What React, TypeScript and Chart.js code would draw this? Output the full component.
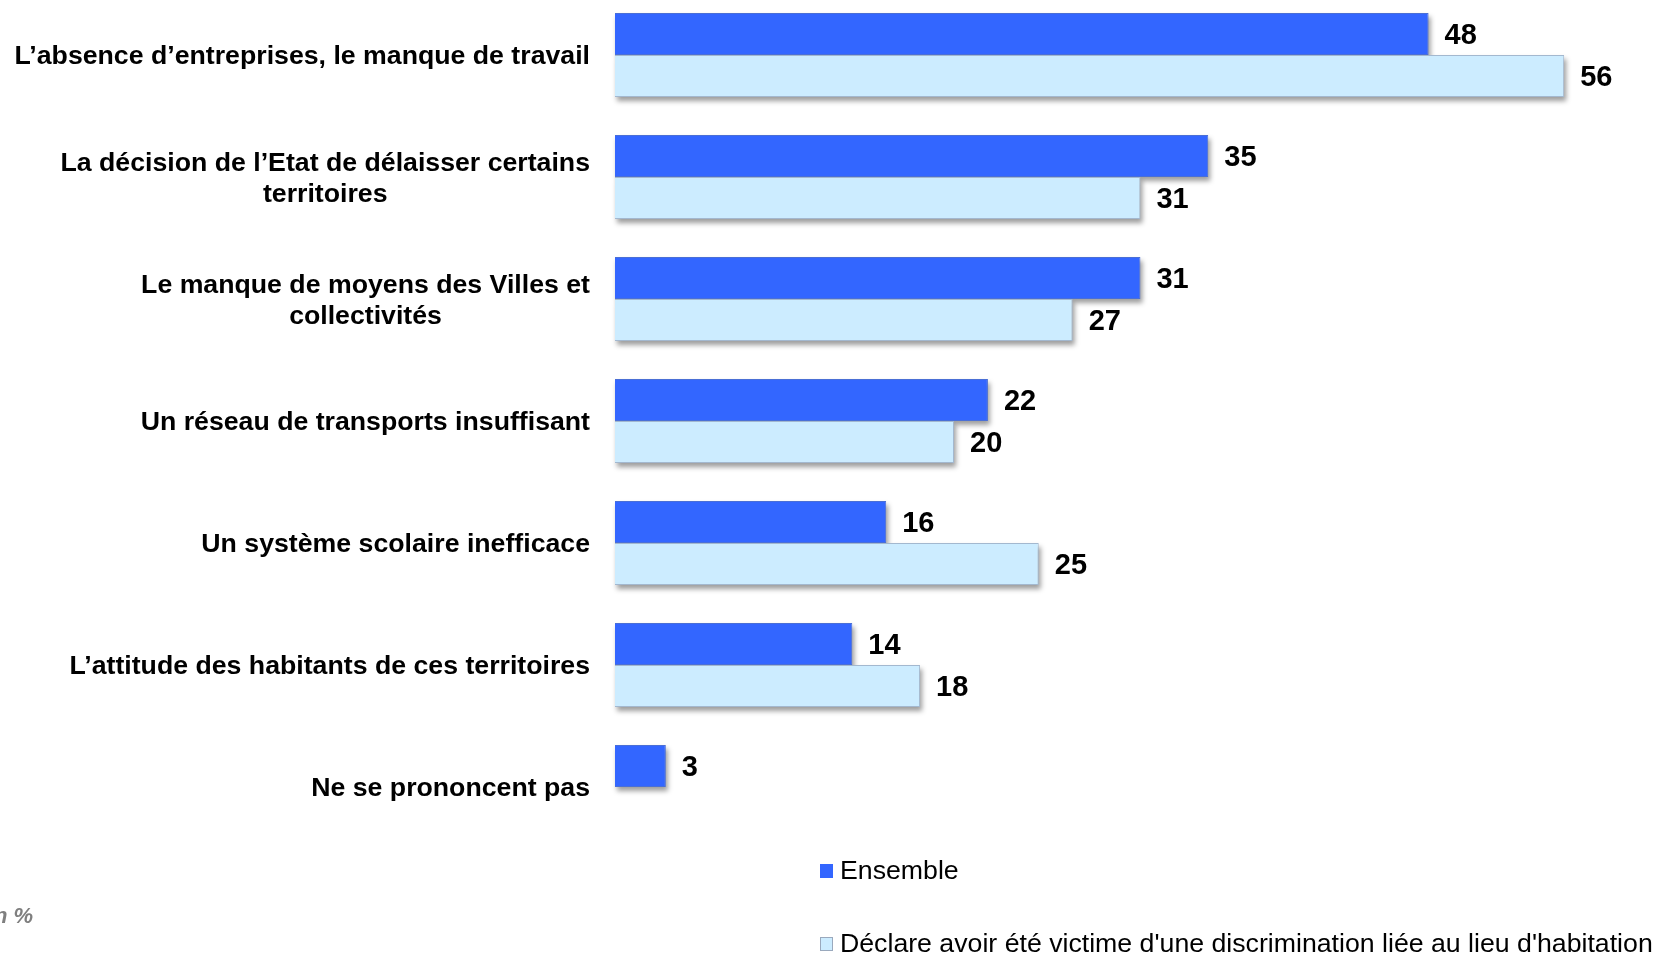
import React, { useEffect, useRef } from "react";
import { Chart, registerables } from "chart.js";

Chart.register(...registerables);

const categories: string[][] = [
  ["L’absence d’entreprises, le manque de travail"],
  ["La décision de l’Etat de délaisser certains", "territoires"],
  ["Le manque de moyens des Villes et", "collectivités"],
  ["Un réseau de transports insuffisant"],
  ["Un système scolaire inefficace"],
  ["L’attitude des habitants de ces territoires"],
  ["Ne se prononcent pas"],
];
const ensemble: (number | null)[] = [48, 35, 31, 22, 16, 14, 3];
const victimes: (number | null)[] = [56, 31, 27, 20, 25, 18, null];
const seriesNames = [
  "Ensemble",
  "Déclare avoir été victime d'une discrimination liée au lieu d'habitation",
];
const unitLabel = "En %";

const DARK = "#3366FF";
const LIGHT = "#CCECFF";
const FONT = "'Liberation Sans', Arial, sans-serif";

const shadowPlugin = {
  id: "barShadow",
  beforeDatasetsDraw(chart: any) {
    const ctx = chart.ctx;
    ctx.save();
    ctx.filter = "blur(2.5px)";
    ctx.fillStyle = "rgba(0,0,0,0.38)";
    chart.data.datasets.forEach((_: any, di: number) => {
      const meta = chart.getDatasetMeta(di);
      meta.data.forEach((bar: any, i: number) => {
        const v = chart.data.datasets[di].data[i];
        if (v == null) return;
        const { x, y, base, height } = bar.getProps(["x", "y", "base", "height"], true);
        ctx.fillRect(base + 2, y - height / 2 + 4, x - base, height);
      });
    });
    ctx.restore();
  },
};

const textPlugin = {
  id: "texts",
  afterDraw(chart: any) {
    const ctx = chart.ctx;
    const yScale = chart.scales.y;
    ctx.save();
    // category labels
    ctx.fillStyle = "#000";
    ctx.font = `bold 26.7px ${FONT}`;
    ctx.textBaseline = "middle";
    ctx.textAlign = "center";
    const rightEdge = 590;
    const lineH = 31;
    categories.forEach((lines, i) => {
      const yc = yScale.getPixelForValue(i) + 2;
      const maxW = Math.max(...lines.map((l) => ctx.measureText(l).width));
      const cx = rightEdge - maxW / 2;
      const y0 = yc - ((lines.length - 1) * lineH) / 2;
      lines.forEach((l, k) => ctx.fillText(l, cx, y0 + k * lineH));
    });
    // value labels
    ctx.font = `bold 29px ${FONT}`;
    ctx.textAlign = "left";
    chart.data.datasets.forEach((ds: any, di: number) => {
      const meta = chart.getDatasetMeta(di);
      meta.data.forEach((bar: any, i: number) => {
        const v = ds.data[i];
        if (v == null) return;
        const { x, y } = bar.getProps(["x", "y"], true);
        ctx.fillText(String(v), x + 16, y + 2);
      });
    });
    // legend
    ctx.font = `26.7px ${FONT}`;
    const legendY = [878, 951];
    [DARK, LIGHT].forEach((c, k) => {
      const yy = legendY[k];
      ctx.fillStyle = c;
      ctx.fillRect(820, yy - 8, 13, 14);
      if (k === 1) {
        ctx.strokeStyle = "#9aa9bd";
        ctx.lineWidth = 1;
        ctx.strokeRect(820.5, yy - 7.5, 12, 13);
      }
      ctx.fillStyle = "#000";
      ctx.fillText(seriesNames[k], 840, yy);
    });
    // unit label
    ctx.font = `bold italic 22px ${FONT}`;
    ctx.fillStyle = "#7f7f7f";
    ctx.textAlign = "right";
    ctx.fillText(unitLabel, 33, 923);
    ctx.restore();
  },
};

export default function App() {
  const ref = useRef<HTMLCanvasElement | null>(null);
  useEffect(() => {
    if (!ref.current) return;
    const chart = new Chart(ref.current, {
      type: "bar",
      data: {
        labels: categories.map((c) => c.join(" ")),
        datasets: [
          {
            label: seriesNames[0],
            data: ensemble,
            backgroundColor: DARK,
            borderColor: "#4a6fd6",
            borderWidth: 1,
            categoryPercentage: 0.69,
            barPercentage: 1.0,
          },
          {
            label: seriesNames[1],
            data: victimes,
            backgroundColor: LIGHT,
            borderColor: "#a3b8cf",
            borderWidth: 1,
            categoryPercentage: 0.69,
            barPercentage: 1.0,
          },
        ],
      },
      options: {
        indexAxis: "y",
        animation: false,
        responsive: true,
        maintainAspectRatio: false,
        layout: { padding: { left: 615, right: 25, top: 0, bottom: 106 } },
        scales: {
          x: { min: 0, max: 60, display: false },
          y: { display: false },
        },
        plugins: {
          legend: { display: false },
          tooltip: { enabled: false },
        },
      },
      plugins: [shadowPlugin, textPlugin],
    });
    return () => chart.destroy();
  }, []);
  return (
    <div
      style={{
        position: "absolute",
        left: 0,
        top: -6,
        width: 1657,
        height: 960,
        background: "#fff",
      }}
    >
      <canvas ref={ref} />
    </div>
  );
}
